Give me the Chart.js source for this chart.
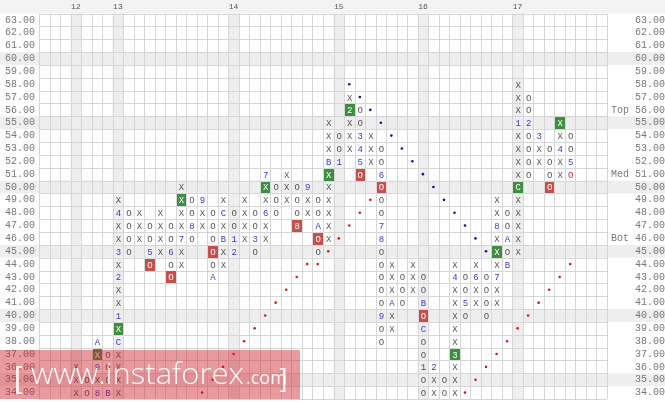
<!DOCTYPE html>
<html><head><meta charset="utf-8">
<script src="https://cdn.jsdelivr.net/npm/chart.js@4.4.1/dist/chart.umd.min.js"></script>
<style>html,body{margin:0;padding:0;background:#fff;overflow:hidden}canvas{display:block}</style>
</head><body>
<canvas id="c" width="665" height="403"></canvas>
<script>
// ---- data ----
const priceTicks = [34,35,36,37,38,39,40,41,42,43,44,45,46,47,48,49,50,51,52,53,54,55,56,57,58,59,60,61,62,63];
const columnCount = 54;
const monthColumns = [3,7,18,28,36,45];
const monthLabels = ['12','13','14','15','16','17'];
const shadedPrices = [35,40,45,50,55,60];
const levelPrices = [56,51,46];
const levelNames = ['Top','Med','Bot'];

// each P&F column: index, lowest price, marks from the bottom up
const columnIds     = [3,4,5,6,7,8,9,10,11,12,13,14,15,16,17,18,19,20,21,22,23,24,25,26,27,28,29,30,31,32,33,34,35,36,37,38,39,40,41,42,43,44,45,46,47,48,49,50];
const columnBottoms = [34,34,34,34,34,45,46,44,45,43,44,46,47,43,44,45,46,45,46,48,49,47,48,45,46,52,53,51,52,38,39,41,42,34,34,34,34,40,41,40,41,44,45,51,52,50,51,51];
const columnMarks = [
  'XXX','OO','8X9XA','BOOO','XXXXCX1XX2X3XX4X','OOOO','XXX','O5OO','XXXX','OO6OO',
  'XX7XXXX','O8OO','XX9','AOOOOO','XXBXCX','21OO','XXXX','O3OO','XX6XX7','OOO',
  'XXX','8OOO','XX9','OOAOO','XXXXXXBXXX','1OO','XXX2X','O543OO','XXX','OO9OOOOO87OOO6OO',
  'XXAXXX','OOO','XXX','OO1OOCOBOO','XX2','OO','XXX3XXXXX4X','O5OO','XX6X','OOOO',
  'XX7XXX8XX','BOAOO','XXXXXCXXXX1XXX','OOOO2OO','XX3','OOOO','XX4XX','O5OO'
];
const greenCells = [[5,37],[7,39],[13,49],[21,50],[27,51],[29,56],[39,37],[43,45],[45,50],[49,55]];
const redCells   = [[10,44],[12,43],[16,45],[24,47],[26,46],[30,51],[32,50],[36,40],[48,50]];
const redTextCells = [[50,51]];
const supportDots = [[15,34],[16,35],[17,36],[18,37],[19,38],[20,39],[21,40],[22,41],[23,42],[24,43],[25,44],[26,44],[27,45],[28,46],[29,47],[30,48],[31,49],
  [40,34],[41,35],[42,36],[43,37],[44,38],[45,39],[46,40],[47,41],[48,42],[49,43],[50,44]];
const resistanceDots = [[29,58],[30,57],[31,56],[32,55],[33,54],[34,53],[35,52],[36,51],[37,50],[38,49],[39,48],[40,47],[41,46],[42,45]];

// ---- build datasets ----
const key = (c,p)=>c+':'+p;
const greenSet = new Set(greenCells.map(a=>key(a[0],a[1])));
const redSet = new Set(redCells.map(a=>key(a[0],a[1])));
const redTextSet = new Set(redTextCells.map(a=>key(a[0],a[1])));
const markPoints = [];
columnIds.forEach((c,i)=>{
  const s = columnMarks[i];
  for (let j=0;j<s.length;j++){
    markPoints.push({x:c, y:columnBottoms[i]+j, ch:s[j]});
  }
});
const toPts = arr => arr.map(a=>({x:a[0], y:a[1]}));

const FONT_MONO = '"Liberation Mono", "DejaVu Sans Mono", monospace';

const pnfPlugin = {
  id:'pnf',
  beforeDraw(chart){
    const {ctx, chartArea:a, scales:{x,y}} = chart;
    const W = chart.width;
    ctx.save();
    ctx.fillStyle='#ffffff'; ctx.fillRect(0,0,W,chart.height);
    ctx.fillStyle='#f3f3f3'; ctx.fillRect(0,0,W,a.top);
    ctx.fillStyle='#eeeeee';
    shadedPrices.forEach(p=>{
      const t=y.getPixelForValue(p+0.5), b=y.getPixelForValue(p-0.5);
      ctx.fillRect(0,t,W,b-t);
    });
    monthColumns.forEach(c=>{
      const l=x.getPixelForValue(c-0.5), r=x.getPixelForValue(c+0.5);
      ctx.fillRect(l,a.top,r-l,a.bottom-a.top);
    });
    ctx.strokeStyle='#d6d6d6'; ctx.lineWidth=1;
    ctx.beginPath();
    for(let c=0;c<=columnCount;c++){
      const px=Math.round(x.getPixelForValue(c-0.5))+0.5;
      ctx.moveTo(px,a.top); ctx.lineTo(px,a.bottom);
    }
    for(let p=priceTicks[0]; p<=priceTicks[priceTicks.length-1]+1; p++){
      const py=Math.round(y.getPixelForValue(p-0.5))+0.5;
      ctx.moveTo(a.left,py); ctx.lineTo(a.right,py);
    }
    ctx.stroke();
    ctx.restore();
  },
  afterDatasetsDraw(chart){
    const {ctx, scales:{x,y}} = chart;
    const cw = x.getPixelForValue(1)-x.getPixelForValue(0);
    const ch = y.getPixelForValue(0)-y.getPixelForValue(1);
    ctx.save();
    const box = (ds, color)=>{
      const meta = chart.getDatasetMeta(ds);
      ctx.fillStyle=color;
      meta.data.forEach(el=>{
        const l=Math.round(el.x-cw/2)+1, t=Math.round(el.y-ch/2)+1;
        const r=Math.round(el.x+cw/2), b=Math.round(el.y+ch/2);
        ctx.fillRect(l,t,r-l,b-t);
      });
    };
    box(1,'#3e8e41');
    box(2,'#c5504b');
    const meta0 = chart.getDatasetMeta(0);
    ctx.font = '9px '+FONT_MONO;
    ctx.textAlign='center'; ctx.textBaseline='alphabetic';
    meta0.data.forEach((el,i)=>{
      const d = markPoints[i];
      const k = key(d.x,d.y);
      let col;
      if (greenSet.has(k)||redSet.has(k)) col='#ffffff';
      else if (redTextSet.has(k)) col='#e02020';
      else if (d.ch==='X'||d.ch==='O') col='#585858';
      else col='#3a3ac4';
      ctx.fillStyle=col;
      ctx.fillText(d.ch, el.x+0.5, el.y+3.5);
    });
    ctx.restore();
  },
  afterDraw(chart){
    const {ctx} = chart;
    ctx.save();
    ctx.fillStyle='rgba(205,30,40,0.45)';
    ctx.fillRect(0,350,300,49);
    ctx.fillStyle='rgba(255,255,255,0.92)';
    ctx.textBaseline='alphabetic'; ctx.textAlign='left';
    ctx.font='300 30px "Liberation Sans", Arial, sans-serif';
    ctx.fillText('[',14,388);
    ctx.font='300 30px "Open Sans", "Liberation Sans", sans-serif';
    const t='www.instaforex';
    const w=ctx.measureText(t).width;
    ctx.save(); ctx.translate(31,384); ctx.scale(213/w,1); ctx.fillText(t,0,0); ctx.restore();
    ctx.font='18px "Open Sans", "Liberation Sans", sans-serif';
    ctx.fillText('.com',246,384);
    ctx.font='300 26px "Liberation Sans", Arial, sans-serif';
    ctx.fillText(']',280,387);
    ctx.restore();
  }
};

const noPad = s=>{ s.paddingTop=0; s.paddingBottom=0; s.paddingLeft=0; s.paddingRight=0; };

new Chart(document.getElementById('c'), {
  type:'scatter',
  data:{datasets:[
    {label:'marks', data:markPoints.map(p=>({x:p.x,y:p.y})), pointRadius:0, yAxisID:'y'},
    {label:'green', data:toPts(greenCells), pointRadius:0, yAxisID:'y'},
    {label:'red', data:toPts(redCells), pointRadius:0, yAxisID:'y'},
    {label:'support', data:toPts(supportDots), pointRadius:1.3, pointBackgroundColor:'#d41a1a', pointBorderWidth:0, yAxisID:'y'},
    {label:'resistance', data:toPts(resistanceDots), pointRadius:1.3, pointBackgroundColor:'#14148c', pointBorderWidth:0, yAxisID:'y'}
  ]},
  options:{
    responsive:false, animation:false, devicePixelRatio:1,
    events:[],
    layout:{padding:{left:0,right:0,top:0,bottom:2.5}},
    plugins:{legend:{display:false}, tooltip:{enabled:false}},
    scales:{
      x:{type:'linear', position:'top', min:-0.5, max:columnCount-0.5,
        afterBuildTicks:s=>{s.ticks=monthColumns.map(v=>({value:v}));},
        afterFit:s=>{s.height=13.5; noPad(s);},
        grid:{display:false, drawTicks:false}, border:{display:false},
        ticks:{autoSkip:false, maxRotation:0, padding:2, color:'#555', font:{family:FONT_MONO,size:8},
          callback:(v,i)=>monthLabels[i]}},
      y:{type:'linear', position:'left', min:priceTicks[0]-0.5, max:priceTicks[priceTicks.length-1]+0.5,
        afterBuildTicks:s=>{s.ticks=priceTicks.map(v=>({value:v}));},
        afterFit:s=>{s.width=39; noPad(s);},
        grid:{display:false, drawTicks:false}, border:{display:false},
        ticks:{autoSkip:false, padding:4, color:'#777', font:{family:FONT_MONO,size:10},
          callback:v=>Number(v).toFixed(2)}},
      y2:{type:'linear', position:'right', min:priceTicks[0]-0.5, max:priceTicks[priceTicks.length-1]+0.5,
        afterBuildTicks:s=>{s.ticks=priceTicks.map(v=>({value:v}));},
        afterFit:s=>{s.width=58; noPad(s);},
        grid:{display:false, drawTicks:false}, border:{display:false},
        ticks:{autoSkip:false, padding:-3, crossAlign:'far', color:'#777', font:{family:FONT_MONO,size:10},
          callback:v=>{const k=levelPrices.indexOf(v); return (k>=0?levelNames[k]+' ':'')+Number(v).toFixed(2);}}}
    }
  },
  plugins:[pnfPlugin]
});
</script>
</body></html>
